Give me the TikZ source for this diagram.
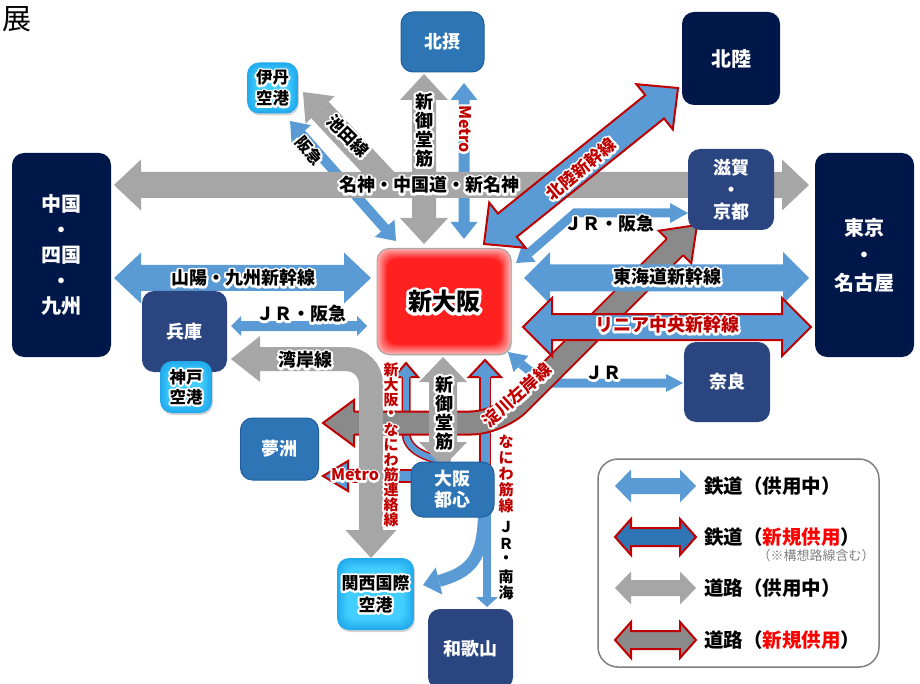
\documentclass[tikz,border=0pt]{standalone}
\usepackage{fontspec}
\usetikzlibrary{calc,shadows}
\setmainfont{Noto Sans CJK JP}
\definecolor{railblue}{HTML}{5B9BD5}
\definecolor{railnew}{HTML}{2E75B6}
\definecolor{cityedge}{HTML}{1F5F9E}
\definecolor{roadgray}{HTML}{A6A6A6}
\definecolor{roadnew}{HTML}{8A8A8A}
\definecolor{linered}{HTML}{C00000}
\definecolor{navybox}{HTML}{00174A}
\definecolor{prefbox}{HTML}{2A4580}
\definecolor{hubred}{HTML}{FF2020}
\definecolor{hubpink}{HTML}{FFB0B0}
\definecolor{skymid}{HTML}{42CEFF}
\definecolor{skyrim}{HTML}{1FA9EC}
\newcommand{\jp}[2]{\fontsize{#1}{#2}\selectfont\bfseries}
\newcommand{\glow}[1]{\special{pdf:code 1 j}\rlap{\color{white}\addfontfeature{FakeBold=24}#1}\special{pdf:code 0 j}#1}
% vertical label, one character per line
\newcommand{\vlabel}[2]{\vbox{\offinterlineskip\def\vstep{#1}\vlabelnext#2\relax}}
\def\vlabelnext#1{\ifx\relax#1\else\vbox to \vstep pt{\vss\hbox to 20pt{\hss\glow{#1}\hss}\vss}\expandafter\vlabelnext\fi}
% block arrow with two heads: [style]{from}{to}{half shaft}{half head}{head length}
\newcommand{\twoway}[6][]{\draw[#1] (#2) -- ($($(#2)!#6pt!(#3)$)!#5pt!90:(#3)$) -- ($($(#2)!#6pt!(#3)$)!#4pt!90:(#3)$)
 -- ($($(#3)!#6pt!(#2)$)!#4pt!-90:(#2)$) -- ($($(#3)!#6pt!(#2)$)!#5pt!-90:(#2)$) -- (#3)
 -- ($($(#3)!#6pt!(#2)$)!#5pt!90:(#2)$) -- ($($(#3)!#6pt!(#2)$)!#4pt!90:(#2)$)
 -- ($($(#2)!#6pt!(#3)$)!#4pt!-90:(#3)$) -- ($($(#2)!#6pt!(#3)$)!#5pt!-90:(#3)$) -- cycle;}
% head on its own, open at the back: [style]{back}{tip}{half shaft}{half head}
\newcommand{\headat}[5][]{\draw[#1] ($(#2)!#4pt!90:(#3)$) -- ($(#2)!#5pt!90:(#3)$) -- (#3)
 -- ($(#2)!#5pt!-90:(#3)$) -- ($(#2)!#4pt!-90:(#3)$);}
\tikzset{
railbar/.style={fill=railblue,draw=none},
railred/.style={fill=railblue,draw=linered,line width=2pt,line join=miter},
railnewbar/.style={fill=railnew,draw=linered,line width=2pt},
roadbar/.style={fill=roadgray,draw=none},
roadred/.style={fill=roadnew,draw=linered,line width=2pt},
insetfill/.style 2 args={path picture={\foreach \i in {0,...,10}{\pgfmathtruncatemacro{\pct}{\i*10}
 \fill[#2!\pct!#1,rounded corners=10pt] ([shift={(\i,\i)}]path picture bounding box.north west) rectangle ([shift={(-\i,-\i)}]path picture bounding box.south east);}}},
box/.style={rounded corners=12pt,inner sep=0pt,align=center,text=white},
areabox/.style={box,fill=navybox},
prefnode/.style={box,fill=prefbox},
citynode/.style={box,fill=railnew,draw=cityedge,line width=1pt},
airport/.style={box,text=black,insetfill={skyrim}{skymid},drop shadow={shadow xshift=1pt,shadow yshift=-2pt,opacity=.35}},
hub/.style={box,text=black,draw=gray!70,line width=1pt,insetfill={hubpink}{hubred},drop shadow={shadow xshift=1pt,shadow yshift=-1pt,opacity=.3}},
lab/.style={inner sep=0pt,font=\jp{18}{22}},
redlab/.style={lab,text=linered},
}
\begin{document}
\begin{tikzpicture}[x=1pt,y=-1pt]
\useasboundingbox (0,0) rectangle (920,684);
\node[lab,font=\fontsize{29}{30}\selectfont] (titlechar) at (17,19) {展};
% ends of the arrows
\coordinate (ikedaT) at (303,92); \coordinate (ikedaB) at (320,110); \coordinate (ikedaE) at (390,185);
\coordinate (hankyuT) at (290,121); \coordinate (hankyuE) at (396,241);
\coordinate (midoN) at (424,74); \coordinate (midoS) at (424,244);
\coordinate (metroN) at (464,83); \coordinate (metroS) at (464,239);
\coordinate (meishinW) at (114,185); \coordinate (meishinE) at (809,185);
\coordinate (hokurikuS) at (484,244); \coordinate (hokurikuN) at (678,88);
\coordinate (jrnorthT) at (516,263); \coordinate (jrnorthA) at (529,253); \coordinate (jrnorthB) at (575,213); \coordinate (jrnorthC) at (670,213); \coordinate (jrnorthE) at (688,213);
\coordinate (naraT) at (508,352); \coordinate (naraA) at (521,364); \coordinate (naraB) at (545,383); \coordinate (naraC) at (666,383); \coordinate (naraE) at (683,383);
\coordinate (renrakuT) at (406,363); \coordinate (renrakuA) at (406,377); \coordinate (renrakuB) at (406,432);
\coordinate (renrakuE) at (450,462);
\coordinate (naniwaT) at (485,360); \coordinate (naniwaA) at (485,377); \coordinate (naniwaE) at (485,470);
\coordinate (metroT) at (323,476); \coordinate (metroA) at (348,476); \coordinate (metroE) at (420,476);
\coordinate (kixT) at (423,585); \coordinate (kixA) at (439,581); \coordinate (kixE) at (484,510);
\coordinate (nankaiT) at (487,607); \coordinate (nankaiA) at (487,597); \coordinate (nankaiE) at (487,510);
\coordinate (yodoT) at (323,423); \coordinate (yodoA) at (354,423); \coordinate (yodoB) at (499,423); \coordinate (yodoC) at (675,247); \coordinate (yodoE) at (697,225);
\coordinate (wanW) at (231,359); \coordinate (wanA) at (260,359); \coordinate (wanB) at (371,359); \coordinate (wanC) at (371,530); \coordinate (wanS) at (371,558);
\coordinate (midolowN) at (443,357); \coordinate (midolowS) at (443,467);
\coordinate (sanyoW) at (114,278); \coordinate (sanyoE) at (371,278);
\coordinate (kobeW) at (231,326); \coordinate (kobeE) at (367,326);
\coordinate (tokaiW) at (524,278); \coordinate (tokaiE) at (809,278);
\coordinate (linearW) at (523,327); \coordinate (linearE) at (811,327);
% rail and road under the expressway bar
\draw[roadgray,line width=24pt] (ikedaB) -- (ikedaE);
\headat[roadbar]{ikedaB}{ikedaT}{12}{20}
\twoway[railbar]{hankyuT}{hankyuE}{5}{13}{17}
\twoway[roadbar]{midoN}{midoS}{12}{24}{26}
\twoway[railbar]{metroN}{metroS}{5.5}{13.5}{17}
\twoway[roadbar]{meishinW}{meishinE}{13}{25.5}{27}
\draw[railblue,line width=9pt] (jrnorthA) -- (jrnorthB) -- (jrnorthC);
\headat[railbar]{jrnorthA}{jrnorthT}{4.5}{11}
\headat[railbar]{jrnorthC}{jrnorthE}{4.5}{10}
\twoway[railred]{hokurikuS}{hokurikuN}{15}{29}{30}
% thin lines round the city centre
\draw[railblue,line width=9pt] (naraA) -- (naraB) -- (naraC);
\headat[railbar]{naraA}{naraT}{4.5}{11}
\headat[railbar]{naraC}{naraE}{4.5}{9}
\draw[double=railblue,double distance=6pt,line width=1.5pt,draw=linered,shorten <=-1pt] (renrakuA) -- (renrakuB) .. controls (406,450) and (425,458) .. (renrakuE);
\headat[railred]{renrakuA}{renrakuT}{4.5}{12}
\draw[double=railblue,double distance=9pt,line width=1.5pt,draw=linered,shorten <=-1pt] (naniwaA) -- (naniwaE);
\headat[railred]{naniwaA}{naniwaT}{6}{16}
\draw[double=railblue,double distance=10pt,line width=2pt,draw=linered,shorten <=-1pt] (metroA) -- (metroE);
\headat[railred]{metroA}{metroT}{7}{15}
\draw[railblue,line width=12pt] (kixA) .. controls (470,572) and (484,560) .. (kixE);
\headat[railbar]{kixA}{kixT}{6}{14}
\draw[railblue,line width=8pt] (nankaiE) -- (nankaiA);
\headat[railbar]{nankaiA}{nankaiT}{4}{11}
% new road, then the lines that pass over it
\draw[double=roadnew,double distance=21pt,line width=2pt,draw=linered,rounded corners=28pt,shorten <=-1pt,shorten >=-1pt] (yodoA) -- (yodoB) -- (yodoC);
\headat[roadred]{yodoA}{yodoT}{11.5}{23}
\headat[roadred]{yodoC}{yodoE}{11.5}{23}
\draw[roadgray,line width=24pt,rounded corners=25pt] (wanA) -- (wanB) -- (wanC);
\headat[roadbar]{wanA}{wanW}{12}{23}
\headat[roadbar]{wanC}{wanS}{12}{25.5}
\twoway[roadbar]{midolowN}{midolowS}{14}{24}{25}
\twoway[railbar]{sanyoW}{sanyoE}{13}{25.5}{27}
\twoway[railbar]{kobeW}{kobeE}{5}{10}{10}
\twoway[railbar]{tokaiW}{tokaiE}{13.5}{26}{26}
\twoway[railred]{linearW}{linearE}{13}{29}{29}
% places
\node[areabox,minimum width=99pt,minimum height=204pt,font=\jp{20}{25.5}] (chugoku) at (61.5,255) {中国\\・\\四国\\・\\九州};
\node[areabox,minimum width=99pt,minimum height=204pt,font=\jp{20}{27.5}] (tokyo) at (864.5,255) {東京\\・\\名古屋};
\node[areabox,minimum width=98pt,minimum height=93pt,font=\jp{20}{24}] (hokuriku) at (731,58.5) {北陸};
\node[prefnode,minimum width=86pt,minimum height=81pt,font=\jp{18}{22}] (shiga) at (731,189.5) {滋賀\\・\\京都};
\node[prefnode,minimum width=86pt,minimum height=80pt,font=\jp{18}{22}] (nara) at (727,382) {奈良};
\node[prefnode,minimum width=85pt,minimum height=81pt,font=\jp{18}{22}] (hyogo) at (184.5,331.5) {兵庫};
\node[prefnode,minimum width=85pt,minimum height=80pt,font=\jp{18}{22}] (wakayama) at (470.5,649) {和歌山};
\node[citynode,minimum width=83pt,minimum height=60pt,font=\jp{18}{22}] (hokusetsu) at (442.5,42) {北摂};
\node[citynode,minimum width=78pt,minimum height=62pt,font=\jp{18}{22}] (yumeshima) at (279.5,449) {夢洲};
\node[citynode,minimum width=83pt,minimum height=55pt,font=\jp{18}{21}] (toshin) at (452.5,489.5) {大阪\\都心};
\node[airport,minimum width=51pt,minimum height=51pt,font=\jp{16.5}{21}] (itami) at (272.5,88) {\glow{伊丹}\\\glow{空港}};
\node[airport,minimum width=52pt,minimum height=52pt,font=\jp{16.5}{20}] (kobe) at (186,387) {\glow{神戸}\\\glow{空港}};
\node[airport,minimum width=77pt,minimum height=72pt,font=\jp{17}{22}] (kansai) at (375.5,594) {\glow{関西国際}\\\glow{空港}};
\node[hub,minimum width=134pt,minimum height=106pt,font=\jp{24}{26}] (shinosaka) at (444,301.5) {\glow{新大阪}};
% labels on the lines
\node[lab] (meishinlab) at (429,185) {\glow{名神・中国道・新名神}};
\node[lab,rotate=-45,font=\jp{17}{20}] (ikedalab) at (348,136) {\glow{池田線}};
\node[lab,rotate=-50,font=\jp{16}{20}] (hankyulab) at (309,151) {\glow{阪急}};
\node[lab,font=\jp{18}{18}] (midolab) at (424,130) {\vlabel{19}{新御堂筋}};
\node[redlab,rotate=-90,font=\jp{16}{18}] (metrolab) at (465,129) {\glow{Metro}};
\node[redlab,rotate=40,font=\jp{17}{20}] (hokurikulab) at (581,169) {\glow{北陸新幹線}};
\node[lab] (jrnorthlab) at (609,224) {\glow{ＪＲ・阪急}};
\node[lab] (sanyolab) at (243,278) {\glow{山陽・九州新幹線}};
\node[lab] (kobelab) at (301,314) {\glow{ＪＲ・阪急}};
\node[lab] (wanlab) at (305,360) {\glow{湾岸線}};
\node[lab] (tokailab) at (667,277) {\glow{東海道新幹線}};
\node[redlab] (linearlab) at (667,325) {\glow{リニア中央新幹線}};
\node[lab] (naralab) at (603,373) {\glow{ＪＲ}};
\node[redlab,rotate=42,font=\jp{17}{20}] (yodolab) at (517,395) {\glow{淀川左岸線}};
\node[redlab,font=\jp{15}{15}] (renrakulab) at (391,445) {\vlabel{15}{新大阪・なにわ筋連絡線}};
\node[redlab,font=\jp{15}{15}] (naniwalab) at (506,474) {\vlabel{16}{なにわ筋線}};
\node[lab,font=\jp{15}{15}] (nankailab) at (506,560) {\vlabel{16.5}{ＪＲ・南海}};
\node[lab,font=\jp{18}{18}] (midolowlab) at (444,413) {\vlabel{19}{新御堂筋}};
\node[redlab,font=\jp{16}{18}] (metrolowlab) at (355,475) {\glow{Metro}};
% legend
\node[draw=gray,line width=1.5pt,rounded corners=20pt,minimum width=281pt,minimum height=208pt,inner sep=0pt] (legend) at (738.5,563) {};
\foreach \n/\y/\st/\s/\h/\txt in {
a/486/railbar/8/16.5/鉄道（供用中）,
b/537/railnewbar/9/18/鉄道（{\color{red}新規供用}）,
c/588/roadbar/8/16.5/道路（供用中）,
d/640/roadred/9/18/道路（{\color{red}新規供用}）}{
\coordinate (leg\n W) at (615,\y); \coordinate (leg\n E) at (696,\y);
\twoway[\st]{leg\n W}{leg\n E}{\s}{\h}{16}
\node[lab,anchor=west,font=\jp{19.5}{22}] (leg\n) at (704,\y) {\txt};
}
\node[lab,font=\fontsize{13}{15}\selectfont,text=gray] (legnote) at (816,556) {（※構想路線含む）};
\end{tikzpicture}
\end{document}
